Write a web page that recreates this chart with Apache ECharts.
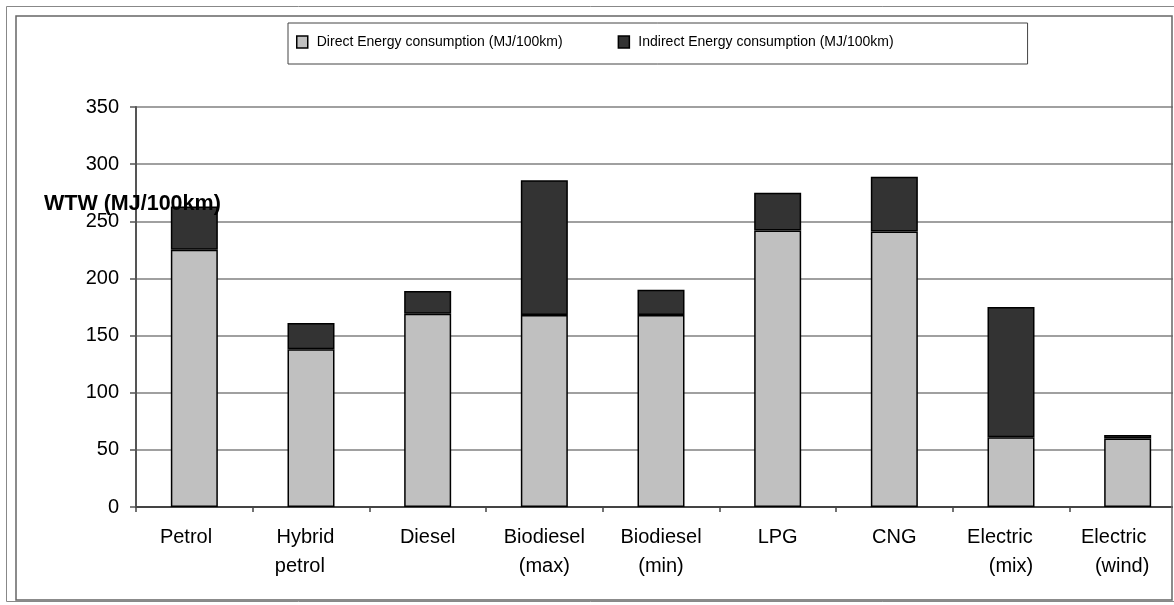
<!DOCTYPE html>
<html>
<head>
<meta charset="utf-8">
<script src="https://cdn.jsdelivr.net/npm/echarts@6/dist/echarts.min.js"></script>
<style>
  html, body { margin: 0; padding: 0; background: #fff; }
  #chart { width: 1174px; height: 605px; }
</style>
</head>
<body>
<div id="chart"></div>
<script>
// Well-to-wheel energy use per vehicle type, split into direct and indirect parts
const categories = [
  'Petrol   ', 'Hybrid  \npetrol    ', 'Diesel', 'Biodiesel\n(max)', 'Biodiesel\n(min)',
  'LPG', 'CNG', 'Electric    \n(mix)', 'Electric     \n(wind)  '
];
const directEnergy   = [225, 138, 169, 168, 168, 242, 241, 61, 60];
const indirectEnergy = [38, 23, 20, 118, 22, 33, 48, 114, 3];
const yTicks = { min: 0, max: 350, step: 50 };
const seriesNames = ['Direct Energy consumption (MJ/100km)', 'Indirect Energy consumption (MJ/100km)'];
const yTitle = 'WTW (MJ/100km)';

const FONT = '"Liberation Sans", Arial, sans-serif';
const chart = echarts.init(document.getElementById('chart'), null, { renderer: 'canvas' });

chart.setOption({
  animation: false,
  backgroundColor: '#fff',
  textStyle: { fontFamily: FONT },
  // plot runs on past the right frame edge
  grid: {
    left: 136, top: 107, width: 1050, height: 400,
    containLabel: false, outerBoundsMode: 'none'
  },
  legend: {
    left: 288, top: 23,
    padding: [12, 134, 15, 8],
    itemWidth: 11, itemHeight: 12, itemGap: 55,
    borderColor: '#444', borderWidth: 1,
    icon: 'rect',
    selectedMode: false,
    textStyle: { fontFamily: FONT, fontSize: 14, color: '#000', padding: [0, 0, 0, 4] },
    data: [
      { name: seriesNames[0], itemStyle: { color: '#c0c0c0', borderColor: '#000', borderWidth: 1.5 } },
      { name: seriesNames[1], itemStyle: { color: '#333333', borderColor: '#000', borderWidth: 1.5 } }
    ]
  },
  xAxis: {
    type: 'category',
    data: categories,
    axisLine: { show: true, lineStyle: { color: '#444', width: 2 } },
    axisTick: { show: true, length: 5, alignWithLabel: false, lineStyle: { color: '#444', width: 1.5 } },
    axisLabel: {
      interval: 0, margin: 16, fontSize: 20, lineHeight: 29, color: '#000', fontFamily: FONT
    },
    splitLine: { show: false }
  },
  yAxis: {
    type: 'value',
    min: yTicks.min, max: yTicks.max, interval: yTicks.step,
    axisLine: { show: true, lineStyle: { color: '#555', width: 2 } },
    axisTick: { show: true, length: 6, lineStyle: { color: '#555', width: 1.5 } },
    axisLabel: { margin: 17, fontSize: 20, color: '#000', fontFamily: FONT },
    splitLine: { show: true, lineStyle: { color: '#808080', width: 1.5 } }
  },
  series: [
    {
      name: seriesNames[0], type: 'bar', stack: 'wtw', barWidth: 47,
      data: directEnergy,
      itemStyle: { color: '#c0c0c0', borderColor: '#000', borderWidth: 1.5 }
    },
    {
      name: seriesNames[1], type: 'bar', stack: 'wtw', barWidth: 47,
      data: indirectEnergy,
      itemStyle: { color: '#333333', borderColor: '#000', borderWidth: 1.5 }
    }
  ],
  graphic: [
    // strip right of the chart-area frame
    { type: 'rect', z: 90, shape: { x: 1173, y: 0, width: 10, height: 605 }, style: { fill: '#fff' } },
    // outer page frame
    { type: 'rect', z: 100, shape: { x: 6.5, y: 6.5, width: 1180, height: 595 },
      style: { fill: 'none', stroke: '#888', lineWidth: 1 } },
    // chart-area frame
    { type: 'rect', z: 100, shape: { x: 16, y: 16, width: 1156, height: 584 },
      style: { fill: 'none', stroke: '#666', lineWidth: 1.5 } },
    // value axis title, drawn over the plot
    { type: 'text', z: 100, left: 44, top: 193,
      style: { text: yTitle, font: 'bold 21.5px ' + FONT, fill: '#000' } }
  ]
});
</script>
</body>
</html>
